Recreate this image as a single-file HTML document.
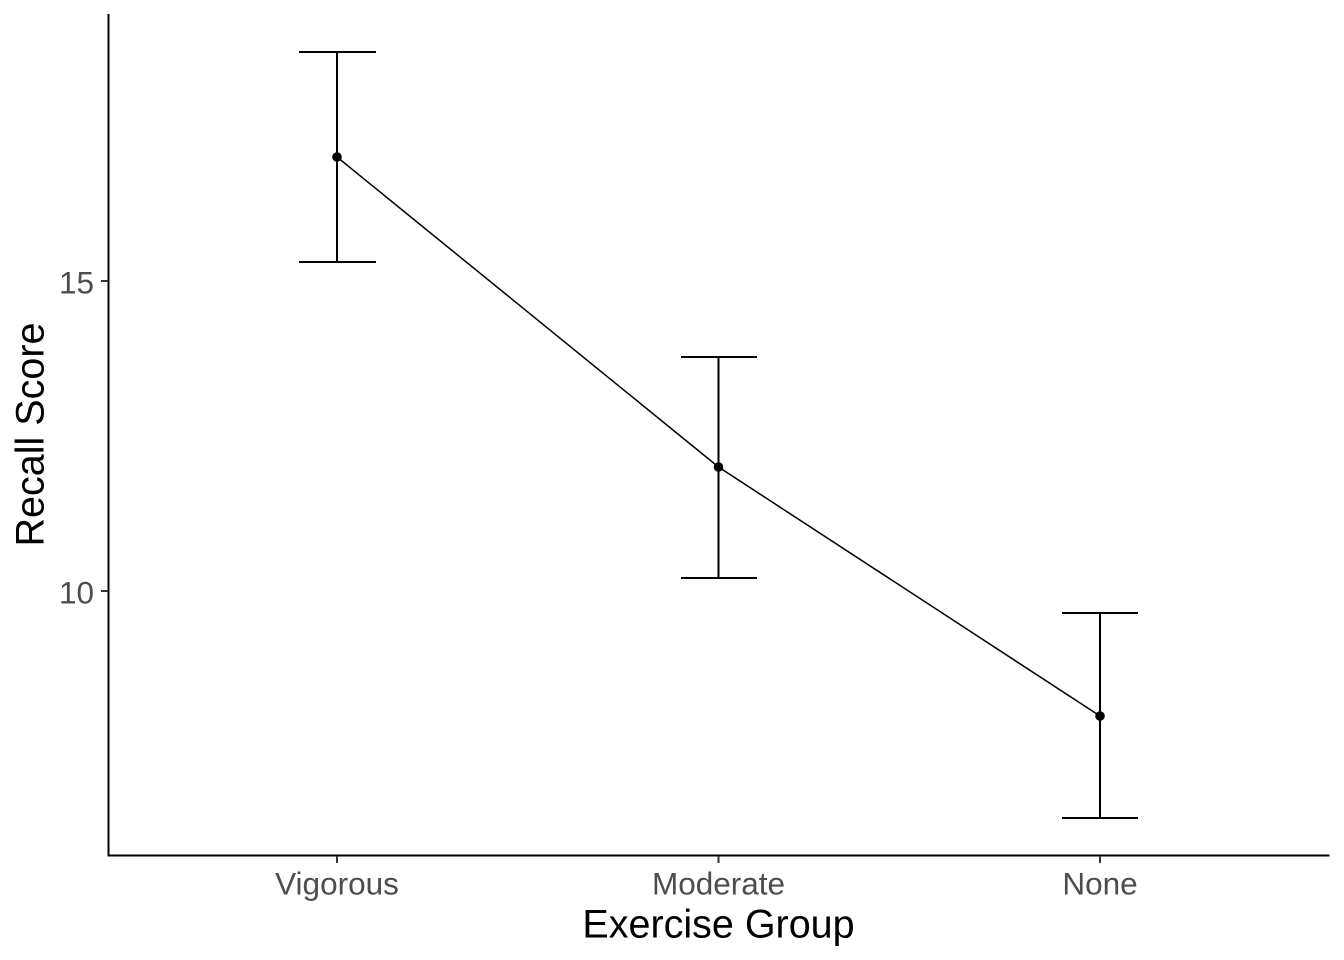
<!DOCTYPE html>
<html>
<head>
<meta charset="utf-8">
<style>
  html, body { margin: 0; padding: 0; background: #ffffff; }
  svg { display: block; }
  text { font-family: "Liberation Sans", Arial, sans-serif; }
</style>
</head>
<body>
<svg width="1344" height="960" viewBox="0 0 1344 960" xmlns="http://www.w3.org/2000/svg">
  <rect x="0" y="0" width="1344" height="960" fill="#ffffff"/>

  <!-- connecting line -->
  <polyline points="337,157 718.5,467 1100,716" fill="none" stroke="#000000" stroke-width="1.5"/>

  <!-- error bars -->
  <g stroke="#000000" stroke-width="2" fill="none">
    <line x1="337" y1="52" x2="337" y2="262"/>
    <line x1="299" y1="52" x2="376" y2="52"/>
    <line x1="299" y1="262" x2="376" y2="262"/>

    <line x1="718.5" y1="357" x2="718.5" y2="578"/>
    <line x1="681" y1="357" x2="757" y2="357"/>
    <line x1="681" y1="578" x2="757" y2="578"/>

    <line x1="1100" y1="613" x2="1100" y2="818"/>
    <line x1="1062" y1="613" x2="1138" y2="613"/>
    <line x1="1062" y1="818" x2="1138" y2="818"/>
  </g>

  <!-- points -->
  <circle cx="337" cy="157" r="4.8" fill="#000000"/>
  <circle cx="718.5" cy="467" r="4.8" fill="#000000"/>
  <circle cx="1100" cy="716" r="4.8" fill="#000000"/>

  <!-- axes -->
  <line x1="108.5" y1="14" x2="108.5" y2="856.5" stroke="#000000" stroke-width="2"/>
  <line x1="107.5" y1="855.5" x2="1329.5" y2="855.5" stroke="#000000" stroke-width="2"/>

  <!-- y ticks -->
  <g stroke="#333333" stroke-width="2">
    <line x1="101" y1="281" x2="108" y2="281"/>
    <line x1="101" y1="591" x2="108" y2="591"/>
  </g>
  <!-- x ticks -->
  <g stroke="#333333" stroke-width="2">
    <line x1="337" y1="856" x2="337" y2="863"/>
    <line x1="718.5" y1="856" x2="718.5" y2="863"/>
    <line x1="1100" y1="856" x2="1100" y2="863"/>
  </g>

  <!-- y tick labels -->
  <g fill="#4D4D4D" font-size="31.5" text-anchor="end">
    <text x="94" y="293.5">15</text>
    <text x="94" y="603.5">10</text>
  </g>

  <!-- x tick labels -->
  <g fill="#4D4D4D" font-size="31.5" text-anchor="middle">
    <text x="337" y="894.5">Vigorous</text>
    <text x="718.5" y="894.5">Moderate</text>
    <text x="1100" y="894.5">None</text>
  </g>

  <!-- axis titles -->
  <text x="718.5" y="937.5" font-size="39.5" fill="#000000" text-anchor="middle">Exercise Group</text>
  <text x="0" y="0" font-size="39.5" fill="#000000" text-anchor="middle" transform="translate(43.5,434.5) rotate(-90)">Recall Score</text>
</svg>
</body>
</html>
